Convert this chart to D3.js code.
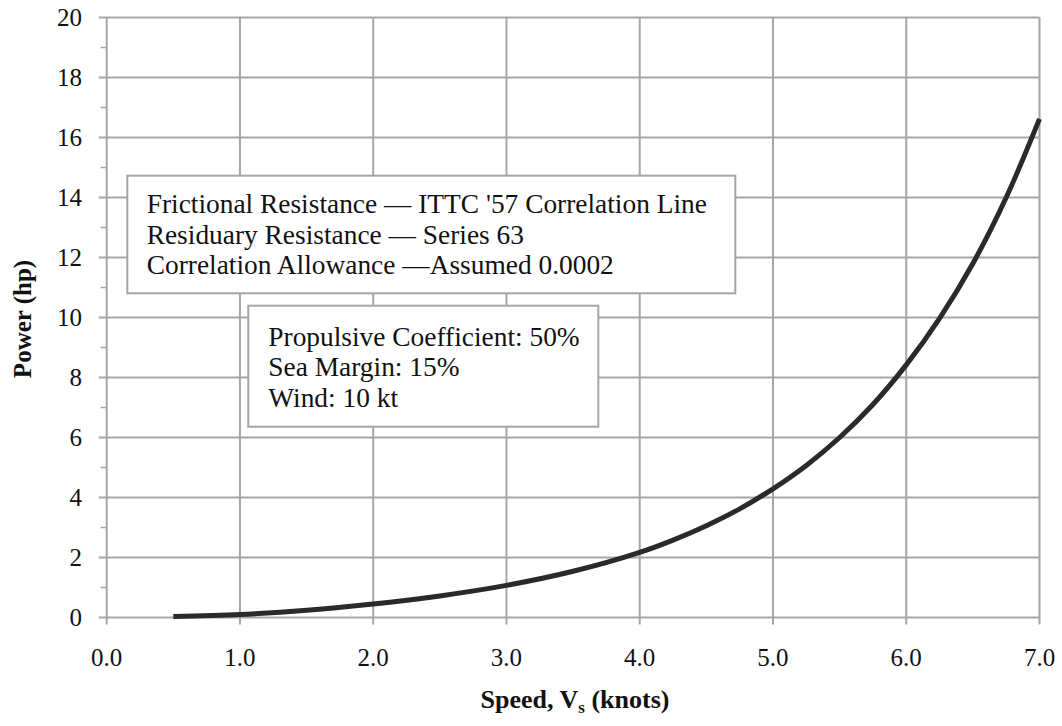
<!DOCTYPE html>
<html><head><meta charset="utf-8">
<script src="https://cdn.jsdelivr.net/npm/d3@7"></script>
<style>
body{margin:0;background:#fff;}
text{font-family:"Liberation Serif","Times New Roman",serif;fill:#111;}
</style></head>
<body><svg id="c" width="1062" height="726"></svg>
<script>
const speeds = [0.5, 1.0, 1.5, 2.0, 2.5, 3.0, 3.5, 4.0, 4.25, 4.5, 4.75, 5.0, 5.25, 5.5, 5.75, 6.0, 6.25, 6.5, 6.75, 7.0];
const power  = [0.03, 0.10, 0.24, 0.45, 0.72, 1.07, 1.54, 2.17, 2.58, 3.06, 3.62, 4.29, 5.07, 6.00, 7.10, 8.42, 9.97, 11.80, 14.0, 16.62];
const xTicks = [0, 1, 2, 3, 4, 5, 6, 7];
const yTicks = [0, 2, 4, 6, 8, 10, 12, 14, 16, 18, 20];
const yMinor = [1, 3, 5, 7, 9, 11, 13, 15, 17, 19];
const note1 = ["Frictional Resistance \u2014 ITTC '57 Correlation Line", "Residuary Resistance \u2014 Series 63", "Correlation Allowance \u2014Assumed 0.0002"];
const note2 = ["Propulsive Coefficient: 50%", "Sea Margin: 15%", "Wind: 10 kt"];

const svg = d3.select("#c");
const L = 106.7, R = 1039.5, T = 17.5, B = 617.5;
const x = d3.scaleLinear().domain([0, 7]).range([L, R]);
const y = d3.scaleLinear().domain([0, 20]).range([B, T]);
const grid = "#a6a6a6";

const g = svg.append("g");
// gridlines
g.selectAll(".vg").data(xTicks).enter().append("line")
  .attr("x1", d => x(d)).attr("x2", d => x(d)).attr("y1", T).attr("y2", B + 7)
  .attr("stroke", grid).attr("stroke-width", 2);
g.selectAll(".hg").data(yTicks).enter().append("line")
  .attr("x1", L - 8).attr("x2", R).attr("y1", d => y(d)).attr("y2", d => y(d))
  .attr("stroke", grid).attr("stroke-width", 2);
g.selectAll(".mt").data(yMinor).enter().append("line")
  .attr("x1", L - 6).attr("x2", L).attr("y1", d => y(d)).attr("y2", d => y(d))
  .attr("stroke", grid).attr("stroke-width", 1.5);

// tick labels
g.selectAll(".yl").data(yTicks).enter().append("text")
  .attr("x", 82).attr("y", d => y(d)).attr("dy", "0.35em")
  .attr("text-anchor", "end").attr("font-size", 25).text(d => d);
g.selectAll(".xl").data(xTicks).enter().append("text")
  .attr("x", d => x(d)).attr("y", 666)
  .attr("text-anchor", "middle").attr("font-size", 25).text(d => d3.format(".1f")(d));

// curve
const line = d3.line().x((d, i) => x(speeds[i])).y(d => y(d)).curve(d3.curveCatmullRom.alpha(0.5));
g.append("path").datum(power).attr("d", line)
  .attr("fill", "none").attr("stroke", "#2a2a2a").attr("stroke-width", 5);

// annotation boxes
function box(x0, y0, w, h, lines, tx, ty) {
  g.append("rect").attr("x", x0).attr("y", y0).attr("width", w).attr("height", h)
    .attr("fill", "#fff").attr("stroke", "#a6a6a6").attr("stroke-width", 2);
  g.selectAll(null).data(lines).enter().append("text")
    .attr("x", tx).attr("y", (d, i) => ty + i * 30.5).attr("font-size", 27.4).text(d => d);
}
box(127.3, 175.7, 608, 117.6, note1, 146.7, 213.3);
box(248.3, 305.7, 350, 121, note2, 268.3, 345.7);

// axis titles
svg.append("text").attr("transform", "translate(31,319) rotate(-90)")
  .attr("text-anchor", "middle").attr("font-size", 25).attr("font-weight", "bold").text("Power (hp)");
const xt = svg.append("text").attr("x", 575).attr("y", 708)
  .attr("text-anchor", "middle").attr("font-size", 26).attr("font-weight", "bold");
xt.append("tspan").text("Speed, V");
xt.append("tspan").attr("font-size", 17).attr("dy", 5).text("s");
xt.append("tspan").attr("dy", -5).text(" (knots)");
</script></body></html>
